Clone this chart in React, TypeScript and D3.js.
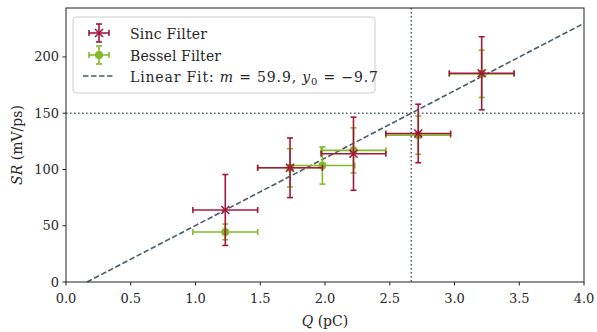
import React from "react";
import * as d3 from "d3";

const sincQ = [1.23, 1.73, 2.22, 2.72, 3.21];
const sincSR = [64, 101.5, 114, 132, 185.5];
const sincErr = [31.5, 26.5, 32.5, 26, 32.5];
const besselQ = [1.23, 1.73, 1.98, 2.22, 2.72, 3.21];
const besselSR = [44.5, 101.5, 103.5, 117, 130.5, 185];
const besselErr = [7, 17, 16.5, 20, 17, 21];
const qErr = 0.25;
const fitM = 59.9;
const fitY0 = -9.7;
const refSR = 150;
const xTicks = [0, 0.5, 1, 1.5, 2, 2.5, 3, 3.5, 4];
const yTicks = [0, 50, 100, 150, 200];

const RED = "#a3173c";
const GREEN = "#80bb2a";
const SLATE = "#4a5b69";
const FONT = "DejaVu Serif";
const TXT = "#262626";

export default function App() {
  const W = 597, H = 332;
  const L = 66, R = 584, T = 8, B = 282;
  const x = d3.scaleLinear().domain([0, 4]).range([L, R]);
  const y = d3.scaleLinear().domain([0, 243.5]).range([B, T]);
  const qRef = (refSR - fitY0) / fitM;
  const q0 = -fitY0 / fitM;
  const line = d3.line<number>().x((q) => x(q)).y((q) => y(fitM * q + fitY0));
  const cap = 3;

  const errbar = (q: number, v: number, e: number, color: string, key: string) => (
    <g key={key} stroke={color} strokeWidth={1.6} fill="none">
      <line x1={x(q - qErr)} x2={x(q + qErr)} y1={y(v)} y2={y(v)} />
      <line x1={x(q)} x2={x(q)} y1={y(v - e)} y2={y(v + e)} />
      <line x1={x(q - qErr)} x2={x(q - qErr)} y1={y(v) - cap} y2={y(v) + cap} />
      <line x1={x(q + qErr)} x2={x(q + qErr)} y1={y(v) - cap} y2={y(v) + cap} />
      <line x1={x(q) - cap} x2={x(q) + cap} y1={y(v - e)} y2={y(v - e)} />
      <line x1={x(q) - cap} x2={x(q) + cap} y1={y(v + e)} y2={y(v + e)} />
    </g>
  );
  const xMark = (cx: number, cy: number, key: string) => (
    <g key={key} stroke={RED} strokeWidth={1.6}>
      <line x1={cx - 4} x2={cx + 4} y1={cy - 4} y2={cy + 4} />
      <line x1={cx - 4} x2={cx + 4} y1={cy + 4} y2={cy - 4} />
    </g>
  );

  return (
    <svg width={W} height={H} style={{ position: "absolute", left: 0, top: 0, fontFamily: FONT }}>
      <rect width={W} height={H} fill="white" />
      <defs>
        <clipPath id="clip">
          <rect x={L} y={T} width={R - L} height={B - T} />
        </clipPath>
      </defs>
      <g clipPath="url(#clip)">
        <line x1={x(qRef)} x2={x(qRef)} y1={T} y2={B} stroke={SLATE} strokeWidth={1.5} strokeDasharray="1.5,2.5" />
        <line x1={L} x2={R} y1={y(refSR)} y2={y(refSR)} stroke={SLATE} strokeWidth={1.5} strokeDasharray="1.5,2.5" />
        <path d={line([q0, 4]) || ""} stroke={SLATE} strokeWidth={1.6} strokeDasharray="5.5,2.5" fill="none" />
        {besselQ.map((q, i) => errbar(q, besselSR[i], besselErr[i], GREEN, "gb" + i))}
        {besselQ.map((q, i) => (
          <circle key={"gc" + i} cx={x(q)} cy={y(besselSR[i])} r={4} fill={GREEN} />
        ))}
        {sincQ.map((q, i) => errbar(q, sincSR[i], sincErr[i], RED, "rb" + i))}
        {sincQ.map((q, i) => xMark(x(q), y(sincSR[i]), "rx" + i))}
      </g>
      <rect x={L} y={T} width={R - L} height={B - T} fill="none" stroke="#222" strokeWidth={1} />
      {xTicks.map((t) => (
        <g key={"xt" + t}>
          <line x1={x(t)} x2={x(t)} y1={B} y2={B + 3.5} stroke="#222" />
          <text x={x(t)} y={B + 20.5} textAnchor="middle" fontSize={13} fill={TXT}>
            {t.toFixed(1)}
          </text>
        </g>
      ))}
      {yTicks.map((t) => (
        <g key={"yt" + t}>
          <line x1={L - 3.5} x2={L} y1={y(t)} y2={y(t)} stroke="#222" />
          <text x={L - 7} y={y(t) + 4.5} textAnchor="end" fontSize={13} fill={TXT}>
            {t}
          </text>
        </g>
      ))}
      <text x={(L + R) / 2} y={326} textAnchor="middle" fontSize={14} fill={TXT}>
        <tspan fontStyle="italic">Q</tspan> (pC)
      </text>
      <text transform={`translate(22,${(T + B) / 2}) rotate(-90)`} textAnchor="middle" fontSize={14} fill={TXT}>
        <tspan fontStyle="italic">SR</tspan> (mV/ps)
      </text>
      <g>
        <rect x={73} y={17} width={302} height={76} rx={3} fill="white" fillOpacity={0.85} stroke="#ccc" />
        <g stroke={RED} strokeWidth={1.6}>
          <line x1={89} x2={109} y1={33} y2={33} />
          <line x1={99} x2={99} y1={24} y2={42} />
          <line x1={89} x2={89} y1={30} y2={36} />
          <line x1={109} x2={109} y1={30} y2={36} />
          <line x1={96} x2={102} y1={24} y2={24} />
          <line x1={96} x2={102} y1={42} y2={42} />
        </g>
        {xMark(99, 33, "lx")}
        <text x={130} y={38.5} fontSize={14} fill={TXT} textLength={77} lengthAdjust="spacing">Sinc Filter</text>
        <g stroke={GREEN} strokeWidth={1.6}>
          <line x1={89} x2={109} y1={55} y2={55} />
          <line x1={99} x2={99} y1={46} y2={64} />
          <line x1={89} x2={89} y1={52} y2={58} />
          <line x1={109} x2={109} y1={52} y2={58} />
          <line x1={96} x2={102} y1={46} y2={46} />
          <line x1={96} x2={102} y1={64} y2={64} />
        </g>
        <circle cx={99} cy={55} r={4} fill={GREEN} />
        <text x={130} y={60.5} fontSize={14} fill={TXT} textLength={91} lengthAdjust="spacing">Bessel Filter</text>
        <line x1={83} x2={113} y1={76} y2={76} stroke={SLATE} strokeWidth={1.6} strokeDasharray="5.5,2.5" />
        <text x={130} y={81.5} fontSize={14} fill={TXT} letterSpacing={0.85}>
          Linear Fit: <tspan fontStyle="italic">m</tspan> = 59.9, <tspan fontStyle="italic">y</tspan>
          <tspan fontSize={10} dy={3}>0</tspan>
          <tspan dy={-3}> = −9.7</tspan>
        </text>
      </g>
    </svg>
  );
}
